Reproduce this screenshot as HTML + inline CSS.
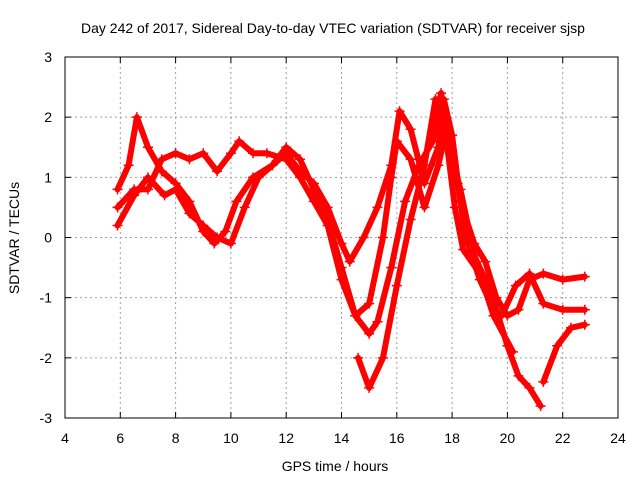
<!DOCTYPE html>
<html><head><meta charset="utf-8"><style>
body{margin:0;background:#fff;font-family:"Liberation Sans",sans-serif}
svg text{font-family:"Liberation Sans",sans-serif;font-size:14px;fill:#000}
</style></head><body>
<svg id="chart" width="640" height="480">
<text x="333" y="33" text-anchor="middle">Day 242 of 2017, Sidereal Day-to-day VTEC variation (SDTVAR) for receiver sjsp</text>
<text x="335" y="471" text-anchor="middle">GPS time / hours</text>
<text transform="translate(19,238) rotate(-90)" text-anchor="middle">SDTVAR / TECUs</text>
<g id="grid"></g><g id="axes"></g><g id="series"></g>
<rect x="65" y="57" width="553" height="361" fill="none" stroke="#000"/>
</svg>
<script>
const xTicks=[4,6,8,10,12,14,16,18,20,22,24];
const yTicks=[-3,-2,-1,0,1,2,3];
const s1=[[5.9,0.8],[6.3,1.2],[6.6,2.0],[7.0,1.5],[7.5,1.1],[8.0,0.9],[8.5,0.6],[9.0,0.1],[9.4,-0.1],[9.8,0.1],[10.2,0.6],[10.8,1.0],[11.5,1.2],[12.0,1.4],[12.5,1.1],[13.0,0.9],[13.5,0.5],[14.0,-0.1],[14.3,-0.4],[14.8,0.0],[15.3,0.5],[15.8,1.2],[16.1,2.1],[16.5,1.8],[17.0,0.9],[17.5,1.5],[17.7,2.3],[18.0,1.7],[18.3,0.6],[18.8,-0.1],[19.2,-0.4],[19.6,-1.0],[20.0,-1.3],[20.4,-1.2],[20.8,-0.7],[21.3,-0.6],[22.0,-0.7],[22.8,-0.65]];
const s2=[[5.9,0.5],[6.5,0.8],[7.0,0.8],[7.5,1.3],[8.0,1.4],[8.5,1.3],[9.0,1.4],[9.5,1.1],[10.0,1.4],[10.3,1.6],[10.8,1.4],[11.3,1.4],[12.0,1.3],[12.5,1.0],[13.0,0.6],[13.5,0.2],[14.0,-0.7],[14.5,-1.3],[15.0,-1.1],[15.5,0.0],[15.8,1.0],[16.0,1.6],[16.5,1.3],[17.0,0.5],[17.5,1.2],[17.8,1.8],[18.2,0.9],[18.5,0.0],[19.0,-0.7],[19.5,-1.2],[19.8,-1.3],[20.3,-0.8],[20.8,-0.6],[21.3,-1.1],[22.0,-1.2],[22.8,-1.2]];
const s3=[[5.9,0.2],[6.5,0.7],[7.0,1.0],[7.6,0.7],[8.0,0.8],[8.5,0.4],[9.0,0.2],[9.5,0.0],[10.0,-0.1],[10.5,0.5],[11.0,1.0],[11.5,1.2],[12.0,1.5],[12.5,1.3],[13.0,0.8],[13.5,0.3],[14.0,-0.5],[14.5,-1.3],[15.0,-1.6],[15.3,-1.4],[15.8,-0.5],[16.3,0.6],[16.8,1.2],[17.3,1.6],[17.6,2.4],[17.9,1.5],[18.3,0.8],[18.8,-0.3],[19.2,-0.7],[19.6,-1.2],[20.0,-1.8],[20.4,-2.3],[20.8,-2.5],[21.2,-2.8]];
const s4=[[14.6,-2.0],[15.0,-2.5],[15.5,-2.0],[16.0,-0.8],[16.5,0.3],[17.0,1.2],[17.4,2.3],[17.8,1.6],[18.1,0.5],[18.4,-0.2],[19.0,-0.6],[19.5,-1.3],[20.2,-1.9]];
const s5=[[21.3,-2.4],[21.8,-1.8],[22.3,-1.5],[22.8,-1.45]];
const seriesList=[s1,s2,s3,s4,s5];
const X=h=>65+(h-4)*553/20, Y=v=>237.5-v*361/6;
const NS="http://www.w3.org/2000/svg";
const g=document.getElementById('grid'),a=document.getElementById('axes'),sg=document.getElementById('series');
function mk(tag,at,p){const e=document.createElementNS(NS,tag);for(const k in at)e.setAttribute(k,at[k]);p.appendChild(e);return e;}
xTicks.forEach(t=>{
 const l=mk('line',{x1:X(t),x2:X(t),y1:57,y2:418,stroke:'#a0a0a0','stroke-dasharray':'2,3'},g);
 
 
 const tx=mk('text',{x:X(t),y:443,'text-anchor':'middle'},a);tx.textContent=t;
 
 
 mk('line',{x1:X(t),x2:X(t),y1:418,y2:412,stroke:'#000'},a);
 mk('line',{x1:X(t),x2:X(t),y1:57,y2:63,stroke:'#000'},a);
});
yTicks.forEach(t=>{
 const l=mk('line',{x1:65,x2:618,y1:Y(t),y2:Y(t),stroke:'#a0a0a0','stroke-dasharray':'2,3'},g);
 
 
 const tx=mk('text',{x:52,y:Y(t)+5,'text-anchor':'end'},a);tx.textContent=t;
 
 
 mk('line',{x1:65,x2:71,y1:Y(t),y2:Y(t),stroke:'#000'},a);
 mk('line',{x1:612,x2:618,y1:Y(t),y2:Y(t),stroke:'#000'},a);
});
seriesList.forEach((s,i)=>{
 const pl=mk('polyline',{points:s.map(p=>X(p[0])+','+Y(p[1])).join(' '),fill:'none',stroke:'#ff0000','stroke-width':6,'stroke-linejoin':'round','stroke-linecap':'round'},sg);
 
 
 s.forEach(p=>{
  const m=mk('path',{d:`M${X(p[0])-5},${Y(p[1])}h10M${X(p[0])},${Y(p[1])-5}v10`,stroke:'#ff0000','stroke-width':1.5},sg);
  
  
 });
});
</script>
</body></html>
